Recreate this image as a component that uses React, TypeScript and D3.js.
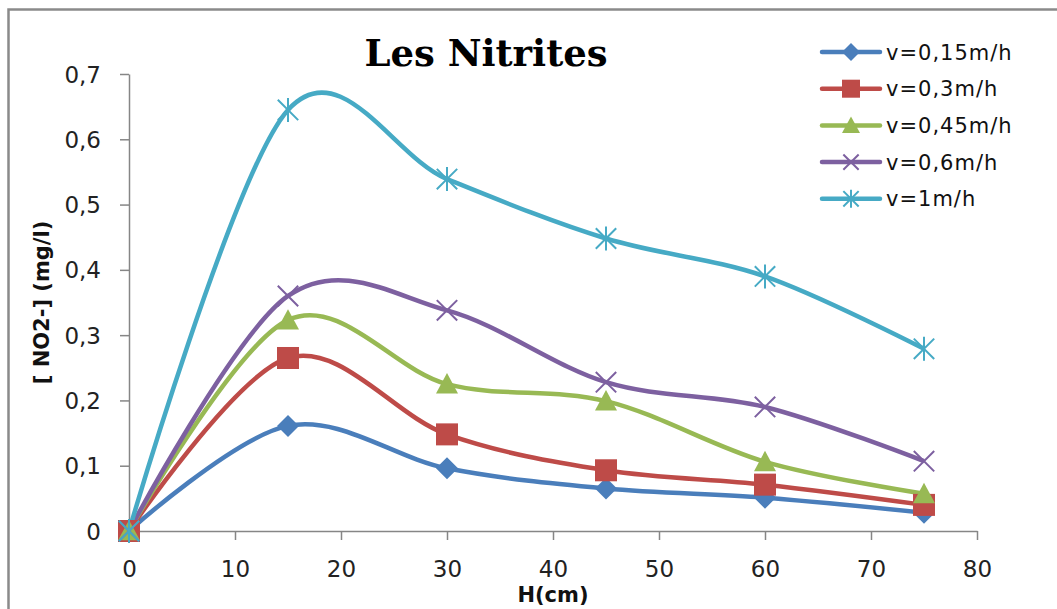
import React, { useRef, useEffect } from 'react';
import * as d3 from 'd3';

// H (cm)
const heights = [0, 15, 30, 45, 60, 75];

// [NO2-] (mg/l) per filtration speed
const v015 = [0, 0.161, 0.096, 0.065, 0.051, 0.028];
const v03 = [0, 0.265, 0.148, 0.093, 0.071, 0.04];
const v045 = [0, 0.323, 0.225, 0.199, 0.106, 0.057];
const v06 = [0, 0.36, 0.338, 0.228, 0.19, 0.107];
const v1 = [0, 0.645, 0.539, 0.448, 0.39, 0.279];

const seriesNames = ['v=0,15m/h', 'v=0,3m/h', 'v=0,45m/h', 'v=0,6m/h', 'v=1m/h'];
const seriesValues = [v015, v03, v045, v06, v1];
const seriesColors = ['#4a7ebb', '#be4b48', '#98b954', '#7d60a0', '#46aac5'];
const seriesMarkers = ['diamond', 'square', 'triangle', 'x', 'star'];

const xTicks = [0, 10, 20, 30, 40, 50, 60, 70, 80];
const yTicks = [0, 0.1, 0.2, 0.3, 0.4, 0.5, 0.6, 0.7];

const fmt = (d: number) => (d === 0 ? '0' : d.toFixed(1).replace('.', ','));

const drawMarker = (
  g: d3.Selection<SVGGElement, unknown, null, undefined>,
  kind: string,
  cx: number,
  cy: number,
  s: number,
  color: string
) => {
  const h = s / 2;
  const m = g.append('g').attr('transform', `translate(${cx},${cy})`);
  if (kind === 'diamond') {
    m.append('path').attr('d', `M0,${-h}L${h},0L0,${h}L${-h},0Z`).attr('fill', color);
  } else if (kind === 'square') {
    m.append('rect').attr('x', -h).attr('y', -h).attr('width', s).attr('height', s).attr('fill', color);
  } else if (kind === 'triangle') {
    m.append('path').attr('d', `M0,${-h}L${h},${h * 0.85}L${-h},${h * 0.85}Z`).attr('fill', color);
  } else {
    const k = h * 0.85;
    m.append('path')
      .attr('d', `M${-k},${-k}L${k},${k}M${k},${-k}L${-k},${k}` + (kind === 'star' ? `M0,${-h}L0,${h}` : ''))
      .attr('stroke', color)
      .attr('stroke-width', 2)
      .attr('fill', 'none');
  }
};

export default function App() {
  const svgRef = useRef<SVGSVGElement>(null);
  const width = 1057;
  const height = 609;
  const plot = { left: 129, right: 977, top: 74, bottom: 531 };

  useEffect(() => {
    if (!svgRef.current) return;
    const svg = d3.select(svgRef.current);
    svg.selectAll('*').remove();

    const sans = 'DejaVu Sans, sans-serif';

    svg.append('rect').attr('width', width).attr('height', height).attr('fill', '#fff');
    // chart frame (runs off the picture on the right and bottom)
    svg.append('rect')
      .attr('x', 8.5).attr('y', 9.5)
      .attr('width', width + 20).attr('height', height + 20)
      .attr('fill', 'none')
      .attr('stroke', '#8a8a8a')
      .attr('stroke-width', 2.5);

    const x = d3.scaleLinear().domain([0, 80]).range([plot.left, plot.right]);
    const y = d3.scaleLinear().domain([0, 0.7]).range([plot.bottom, plot.top]);

    // Axes
    const axisColor = '#868686';
    const xAxis = svg.append('g')
      .attr('transform', `translate(0,${plot.bottom})`)
      .call(d3.axisBottom(x).tickValues(xTicks).tickSize(9).tickSizeOuter(0).tickFormat(d => `${d}`));
    const yAxis = svg.append('g')
      .attr('transform', `translate(${plot.left},0)`)
      .call(d3.axisLeft(y).tickValues(yTicks).tickSize(9).tickSizeOuter(0).tickFormat(d => fmt(+d)));
    [xAxis, yAxis].forEach(a => {
      a.select('.domain').attr('stroke', axisColor).attr('stroke-width', 1.5);
      a.selectAll('.tick line').attr('stroke', axisColor).attr('stroke-width', 1.5);
      a.selectAll('.tick text').attr('font-family', sans).attr('font-size', 23).attr('fill', '#222');
    });
    xAxis.selectAll('.tick text').attr('y', 0).attr('dy', 0).attr('transform', 'translate(0,46)');
    yAxis.selectAll('.tick text').attr('x', -28).attr('dy', '0.35em');

    // Series
    const line = d3.line<number>()
      .x((_, i) => x(heights[i]))
      .y(d => y(d))
      .curve(d3.curveCardinal.tension(0));

    seriesValues.forEach((vals, si) => {
      svg.append('path')
        .datum(vals)
        .attr('fill', 'none')
        .attr('stroke', seriesColors[si])
        .attr('stroke-width', 4.5)
        .attr('stroke-linejoin', 'round')
        .attr('d', line);
    });
    seriesValues.forEach((vals, si) => {
      const g = svg.append('g');
      const size = seriesMarkers[si] === 'x' || seriesMarkers[si] === 'star' ? 24 : 22;
      vals.forEach((v, i) => drawMarker(g, seriesMarkers[si], x(heights[i]), y(v), size, seriesColors[si]));
    });

    // Title
    svg.append('text')
      .attr('x', 486).attr('y', 66)
      .attr('text-anchor', 'middle')
      .attr('font-family', 'DejaVu Serif, serif')
      .attr('font-weight', 'bold')
      .attr('font-size', 37)
      .attr('fill', '#000')
      .text('Les Nitrites');

    // Axis titles
    svg.append('text')
      .attr('x', x(40)).attr('y', 602)
      .attr('text-anchor', 'middle')
      .attr('font-family', sans)
      .attr('font-weight', 'bold')
      .attr('font-size', 21)
      .attr('fill', '#111')
      .text('H(cm)');
    svg.append('text')
      .attr('transform', `translate(49,${(plot.top + plot.bottom) / 2}) rotate(-90)`)
      .attr('text-anchor', 'middle')
      .attr('font-family', sans)
      .attr('font-weight', 'bold')
      .attr('font-size', 21)
      .attr('fill', '#111')
      .text('[ NO2-] (mg/l)');

    // Legend
    const legend = svg.append('g').attr('transform', 'translate(822,52)');
    seriesNames.forEach((name, i) => {
      const row = legend.append('g').attr('transform', `translate(0,${i * 36.7})`);
      row.append('line')
        .attr('x1', 0).attr('x2', 58)
        .attr('stroke', seriesColors[i])
        .attr('stroke-width', 4.5)
        .attr('stroke-linecap', 'round');
      drawMarker(row, seriesMarkers[i], 29, 0, 18, seriesColors[i]);
      row.append('text')
        .attr('x', 64).attr('dy', '0.36em')
        .attr('font-family', sans)
        .attr('font-size', 21)
        .attr('letter-spacing', 1)
        .attr('fill', '#111')
        .text(name);
    });
  }, []);

  return (
    <div style={{ position: 'absolute', left: 0, top: 0 }}>
      <svg ref={svgRef} width={width} height={height} style={{ display: 'block' }} />
    </div>
  );
}
